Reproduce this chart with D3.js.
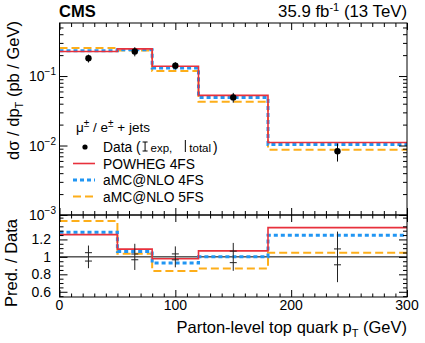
<!DOCTYPE html>
<html>
<head>
<meta charset="utf-8">
<script src="https://cdn.jsdelivr.net/npm/d3@7"></script>
<style>
  body { margin: 0; background: #fff; }
  svg text { font-family: "Liberation Sans", Arial, Helvetica, sans-serif; fill: #000; }
</style>
</head>
<body>
<svg id="chart" width="425" height="343"></svg>
<script>
// bin edges and centres (GeV)
const binEdges = [0, 50, 80, 120, 180, 300];
const binCenters = [25, 65, 100, 150, 240];

// measured cross section (pb / GeV) and relative uncertainties
const dataXsec = [0.180, 0.226, 0.141, 0.0493, 0.00828];
const totalRelUnc = [0.13, 0.15, 0.12, 0.16, 0.29];
const expRelUnc = [0.048, 0.033, 0.034, 0.066, 0.091];

// predictions (pb / GeV)
const powheg4FS = [0.226, 0.246, 0.138, 0.0527, 0.01106];
const amcnlo4FS = [0.231, 0.240, 0.131, 0.0493, 0.01033];
const amcnlo5FS = [0.254, 0.234, 0.118, 0.0427, 0.00866];

const xTickValues = [0, 100, 200, 300];
const logTickValues = [1e-3, 1e-2, 1e-1];
const logTickExp = ['\u22123', '\u22122', '\u22121'];
const ratioTickValues = [0.6, 0.8, 1, 1.2];
const ratioTickLabels = ['0.6', '0.8', '1', '1.2'];

const svg = d3.select('#chart');

const L = 59.5, R = 407, T = 23, MID = 215, B = 297;

const x = d3.scaleLinear().domain([0, 300]).range([L, R]);
const yTop = d3.scaleLog().domain([1e-3, 0.58]).range([MID, T]);
const yRat = d3.scaleLinear().domain([0.54, 1.48]).range([B, MID]);

const series = [
  { name: 'aMC@NLO 5FS', values: amcnlo5FS, color: '#fdae1a', width: 2, dash: '8,4' },
  { name: 'aMC@NLO 4FS', values: amcnlo4FS, color: '#2196f3', width: 3, dash: '4,3' },
  { name: 'POWHEG 4FS', values: powheg4FS, color: '#e8313c', width: 1.6, dash: null }
];

function stepPoints(vals) {
  const pts = binEdges.slice(0, -1).map((e, i) => [e, vals[i]]);
  pts.push([binEdges[binEdges.length - 1], vals[vals.length - 1]]);
  return pts;
}

// minor tick helpers
const xMinor = d3.range(0, 301, 10).filter(v => v % 100 !== 0);
const logMinor = [];
[1e-3, 1e-2, 1e-1].forEach(d => { for (let k = 2; k <= 9; k++) if (d * k <= 0.58) logMinor.push(d * k); });
const ratMinor = d3.range(0.55, 1.48, 0.05).map(v => +v.toFixed(2)).filter(v => Math.abs(v * 5 - Math.round(v * 5)) > 1e-6);

function noDomain(g) { g.select('.domain').remove(); }

// ---------- upper panel ----------
const upper = svg.append('g');

const topLine = d3.line().x(d => x(d[0])).y(d => yTop(d[1])).curve(d3.curveStepAfter);
series.forEach(s => {
  upper.append('path')
    .attr('d', topLine(stepPoints(s.values)))
    .attr('fill', 'none')
    .attr('stroke', s.color)
    .attr('stroke-width', s.width)
    .attr('stroke-dasharray', s.dash);
});

// data points
const pts = upper.selectAll('.pt').data(dataXsec).join('g');
pts.append('line')
  .attr('x1', (d, i) => x(binCenters[i])).attr('x2', (d, i) => x(binCenters[i]))
  .attr('y1', (d, i) => yTop(d * (1 + totalRelUnc[i]))).attr('y2', (d, i) => yTop(d * (1 - totalRelUnc[i])))
  .attr('stroke', '#000').attr('stroke-width', 1);
pts.append('circle')
  .attr('cx', (d, i) => x(binCenters[i])).attr('cy', d => yTop(d))
  .attr('r', 3.2).attr('fill', '#000');

// axes of upper panel
upper.append('g').attr('transform', `translate(${L},0)`)
  .call(d3.axisLeft(yTop).tickValues(logTickValues).tickSize(-8).tickFormat(''))
  .call(noDomain);
upper.append('g').attr('transform', `translate(${L},0)`)
  .call(d3.axisLeft(yTop).tickValues(logMinor).tickSize(-4).tickFormat(''))
  .call(noDomain);
upper.append('g').attr('transform', `translate(${R},0)`)
  .call(d3.axisRight(yTop).tickValues(logTickValues).tickSize(-8).tickFormat(''))
  .call(noDomain);
upper.append('g').attr('transform', `translate(${R},0)`)
  .call(d3.axisRight(yTop).tickValues(logMinor).tickSize(-4).tickFormat(''))
  .call(noDomain);
upper.append('g').attr('transform', `translate(0,${T})`)
  .call(d3.axisTop(x).tickValues(xTickValues).tickSize(-7).tickFormat(''))
  .call(noDomain);
upper.append('g').attr('transform', `translate(0,${T})`)
  .call(d3.axisTop(x).tickValues(xMinor).tickSize(-4).tickFormat(''))
  .call(noDomain);
upper.append('g').attr('transform', `translate(0,${MID})`)
  .call(d3.axisBottom(x).tickValues(xTickValues).tickSize(-7).tickFormat(''))
  .call(noDomain);
upper.append('g').attr('transform', `translate(0,${MID})`)
  .call(d3.axisBottom(x).tickValues(xMinor).tickSize(-4).tickFormat(''))
  .call(noDomain);

// log tick labels with superscripts
logTickValues.forEach((v, i) => {
  const t = upper.append('text')
    .attr('x', 56).attr('y', yTop(v) + 5)
    .attr('text-anchor', 'end')
    .style('font-size', '14px');
  t.append('tspan').text('10');
  t.append('tspan').attr('dy', -6).style('font-size', '10px').text(logTickExp[i]);
});

upper.append('rect')
  .attr('x', L).attr('y', T).attr('width', R - L).attr('height', MID - T)
  .attr('fill', 'none').attr('stroke', '#000').attr('stroke-width', 1);

// ---------- ratio panel ----------
const rat = svg.append('g');

rat.append('line')
  .attr('x1', L).attr('x2', R).attr('y1', yRat(1)).attr('y2', yRat(1))
  .attr('stroke', '#000').attr('stroke-width', 1);

const ratLine = d3.line().x(d => x(d[0])).y(d => yRat(d[1])).curve(d3.curveStepAfter);
series.forEach(s => {
  const ratio = s.values.map((v, i) => v / dataXsec[i]);
  rat.append('path')
    .attr('d', ratLine(stepPoints(ratio)))
    .attr('fill', 'none')
    .attr('stroke', s.color)
    .attr('stroke-width', s.width)
    .attr('stroke-dasharray', s.dash);
});

// data uncertainty: total (line) and experimental (caps)
binCenters.forEach((c, i) => {
  const cx = x(c);
  rat.append('line')
    .attr('x1', cx).attr('x2', cx)
    .attr('y1', yRat(1 + totalRelUnc[i])).attr('y2', yRat(1 - totalRelUnc[i]))
    .attr('stroke', '#222').attr('stroke-width', 1);
  [1 + expRelUnc[i], 1 - expRelUnc[i]].forEach(v => {
    rat.append('line')
      .attr('x1', cx - 3.5).attr('x2', cx + 3.5)
      .attr('y1', yRat(v)).attr('y2', yRat(v))
      .attr('stroke', '#222').attr('stroke-width', 1);
  });
});

rat.append('g').attr('transform', `translate(${L},0)`)
  .call(d3.axisLeft(yRat).tickValues(ratioTickValues).tickSize(-8).tickFormat(''))
  .call(noDomain);
rat.append('g').attr('transform', `translate(${L},0)`)
  .call(d3.axisLeft(yRat).tickValues(ratMinor).tickSize(-4).tickFormat(''))
  .call(noDomain);
rat.append('g').attr('transform', `translate(${R},0)`)
  .call(d3.axisRight(yRat).tickValues(ratioTickValues).tickSize(-8).tickFormat(''))
  .call(noDomain);
rat.append('g').attr('transform', `translate(${R},0)`)
  .call(d3.axisRight(yRat).tickValues(ratMinor).tickSize(-4).tickFormat(''))
  .call(noDomain);
rat.append('g').attr('transform', `translate(0,${MID})`)
  .call(d3.axisTop(x).tickValues(xTickValues).tickSize(-7).tickFormat(''))
  .call(noDomain);
rat.append('g').attr('transform', `translate(0,${MID})`)
  .call(d3.axisTop(x).tickValues(xMinor).tickSize(-3.5).tickFormat(''))
  .call(noDomain);
rat.append('g').attr('transform', `translate(0,${B})`)
  .call(d3.axisBottom(x).tickValues(xTickValues).tickSize(-7).tickFormat(''))
  .call(noDomain);
rat.append('g').attr('transform', `translate(0,${B})`)
  .call(d3.axisBottom(x).tickValues(xMinor).tickSize(-3.5).tickFormat(''))
  .call(noDomain);

ratioTickValues.forEach((v, i) => {
  rat.append('text')
    .attr('x', 51).attr('y', yRat(v) + 5)
    .attr('text-anchor', 'end')
    .style('font-size', '14px')
    .text(ratioTickLabels[i]);
});
xTickValues.forEach(v => {
  rat.append('text')
    .attr('x', x(v)).attr('y', 310)
    .attr('text-anchor', 'middle')
    .style('font-size', '14px')
    .text(v);
});

rat.append('rect')
  .attr('x', L).attr('y', MID).attr('width', R - L).attr('height', B - MID)
  .attr('fill', 'none').attr('stroke', '#000').attr('stroke-width', 1);

// ---------- titles ----------
svg.append('text').attr('x', 59).attr('y', 17)
  .style('font-size', '16.5px').style('font-weight', 'bold').text('CMS');

const lumi = svg.append('text').attr('x', 407).attr('y', 17)
  .attr('text-anchor', 'end').style('font-size', '16.8px');
lumi.append('tspan').text('35.9 fb');
lumi.append('tspan').attr('dy', -6).style('font-size', '11px').text('-1');
lumi.append('tspan').attr('dy', 6).text(' (13 TeV)');

const xt = svg.append('text').attr('x', 407).attr('y', 333)
  .attr('text-anchor', 'end').style('font-size', '16.5px');
xt.append('tspan').text('Parton-level top quark p');
xt.append('tspan').attr('dy', 4).style('font-size', '11px').text('T');
xt.append('tspan').attr('dy', -4).text(' (GeV)');

const yt = svg.append('text')
  .attr('transform', 'translate(19,21) rotate(-90)')
  .attr('text-anchor', 'end').style('font-size', '16.5px');
yt.append('tspan').text('d\u03c3 / dp');
yt.append('tspan').attr('dy', 4).style('font-size', '11px').text('T');
yt.append('tspan').attr('dy', -4).text(' (pb / GeV)');

svg.append('text')
  .attr('transform', 'translate(17,263) rotate(-90)')
  .attr('text-anchor', 'middle').style('font-size', '16.5px')
  .text('Pred. / Data');

// ---------- legend ----------
const leg = svg.append('g');
const hdr = leg.append('text').attr('x', 76).attr('y', 132).style('font-size', '13.5px');
hdr.append('tspan').text('\u03bc');
hdr.append('tspan').attr('dy', -5).style('font-size', '10px').text('\u00b1');
hdr.append('tspan').attr('dy', 5).text(' / e');
hdr.append('tspan').attr('dy', -5).style('font-size', '10px').text('\u00b1');
hdr.append('tspan').attr('dy', 5).text(' + jets');

const textX = 103;
// data row
leg.append('circle').attr('cx', 85).attr('cy', 147).attr('r', 2.6).attr('fill', '#000');
const d1 = leg.append('text').attr('x', textX).attr('y', 152).style('font-size', '13.8px').text('Data (');
let cur = textX + d1.node().getComputedTextLength() + 2;
// I-beam glyph
leg.append('line').attr('x1', cur + 2.5).attr('x2', cur + 2.5).attr('y1', 142).attr('y2', 151).attr('stroke', '#000');
leg.append('line').attr('x1', cur).attr('x2', cur + 5).attr('y1', 142).attr('y2', 142).attr('stroke', '#000');
leg.append('line').attr('x1', cur).attr('x2', cur + 5).attr('y1', 151).attr('y2', 151).attr('stroke', '#000');
cur += 8;
const d2 = leg.append('text').attr('x', cur).attr('y', 152).style('font-size', '11.5px').text('exp,');
cur += d2.node().getComputedTextLength() + 13;
leg.append('line').attr('x1', cur).attr('x2', cur).attr('y1', 140).attr('y2', 152).attr('stroke', '#000');
cur += 4;
const d3t = leg.append('text').attr('x', cur).attr('y', 152).style('font-size', '11.5px').text('total');
cur += d3t.node().getComputedTextLength() + 2;
leg.append('text').attr('x', cur).attr('y', 152).style('font-size', '13.8px').text(')');

const legendOrder = [series[2], series[1], series[0]];
legendOrder.forEach((s, i) => {
  const cy = 163.5 + i * 16.5;
  leg.append('line')
    .attr('x1', 73).attr('x2', 95).attr('y1', cy).attr('y2', cy)
    .attr('stroke', s.color).attr('stroke-width', s.width)
    .attr('stroke-dasharray', s.dash);
  leg.append('text').attr('x', textX).attr('y', cy + 5)
    .style('font-size', '13.8px').text(s.name);
});
</script>
</body>
</html>
